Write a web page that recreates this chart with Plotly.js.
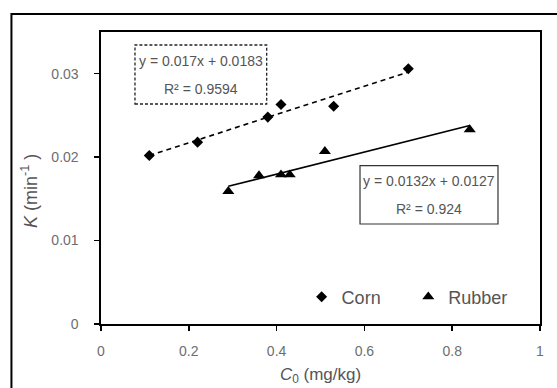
<!DOCTYPE html>
<html>
<head>
<meta charset="utf-8">
<script src="https://cdn.plot.ly/plotly-3.0.1.min.js"></script>
<style>html,body{margin:0;padding:0;background:#fff;}#chart{width:557px;height:388px;}</style>
</head>
<body>
<div id="chart"></div>
<script>
// Data
var cornX = [0.11, 0.22, 0.38, 0.41, 0.53, 0.70];
var cornY = [0.0202, 0.0218, 0.0248, 0.0263, 0.0261, 0.0306];
var rubberX = [0.29, 0.36, 0.41, 0.43, 0.51, 0.84];
var rubberY = [0.0159, 0.0178, 0.0179, 0.0179, 0.0207, 0.0233];
var cornFitX = [0.11, 0.70];
var cornFitY = [0.0202, 0.0302];
var rubberFitX = [0.29, 0.84];
var rubberFitY = [0.0165, 0.0238];
var xTicks = [0, 0.2, 0.4, 0.6, 0.8, 1];
var xTickText = ["0", "0.2", "0.4", "0.6", "0.8", "1"];
var yTicks = [0, 0.01, 0.02, 0.03];
var yTickText = ["0", "0.01", "0.02", "0.03"];
var seriesNames = ["Corn", "Rubber"];
var cornEq = ["y = 0.017x + 0.0183", "R² = 0.9594"];
var rubberEq = ["y = 0.0132x + 0.0127", "R² = 0.924"];
var xTitle = "<i>C</i><sub>0</sub> (mg/kg)";
var yTitle = "<i>K</i> (min<sup>-1</sup> )";

var FONT = "Liberation Sans, Arial, sans-serif";
var traces = [
  {x: cornFitX, y: cornFitY, mode: "lines", line: {color: "#000", width: 1.6, dash: "5px,4px"}, showlegend: false, hoverinfo: "skip"},
  {x: rubberFitX, y: rubberFitY, mode: "lines", line: {color: "#000", width: 1.6}, showlegend: false, hoverinfo: "skip"},
  {x: cornX, y: cornY, name: seriesNames[0], mode: "markers", marker: {symbol: "diamond", size: 8.5, color: "#000"}, legend: "legend"},
  {x: rubberX, y: rubberY, name: seriesNames[1], mode: "markers", marker: {symbol: "triangle-up", size: 10.5, color: "#000"}, legend: "legend2"}
];

var axisCommon = {
  showline: true, linecolor: "#000", linewidth: 1.6, mirror: true,
  ticks: "outside", ticklen: 5, tickwidth: 1.5, tickcolor: "#000",
  showgrid: false, zeroline: false,
  tickfont: {family: FONT, size: 14, color: "#6e6e6e"}
};

var layout = {
  width: 557, height: 388,
  margin: {l: 101, r: 17, t: 32, b: 64},
  paper_bgcolor: "#fff", plot_bgcolor: "#fff",
  font: {family: FONT},
  xaxis: Object.assign({}, axisCommon, {
    range: [0, 1], tickvals: xTicks, ticktext: xTickText, ticklabelstandoff: 9,
    title: {text: xTitle, font: {family: FONT, size: 17, color: "#555"}, standoff: 9}
  }),
  yaxis: Object.assign({}, axisCommon, {
    range: [0, 0.035], tickvals: yTicks, ticktext: yTickText, ticklabelstandoff: 13
  }),
  legend: {x: 0.457, y: 0.0925, xanchor: "left", yanchor: "middle", bgcolor: "rgba(0,0,0,0)",
           font: {family: FONT, size: 18, color: "#555"}},
  legend2: {x: 0.700, y: 0.0925, xanchor: "left", yanchor: "middle", bgcolor: "rgba(0,0,0,0)",
           font: {family: FONT, size: 18, color: "#555"}},
  shapes: [
    {type: "rect", xref: "paper", yref: "paper", x0: 0.0774, x1: 0.3774, y0: 0.7534, y1: 0.9555,
     line: {color: "#222", width: 1.3, dash: "3px,2px"}},
    {type: "rect", xref: "paper", yref: "paper", x0: 0.59, x1: 0.9043, y0: 0.3425, y1: 0.5421,
     line: {color: "#333", width: 1.2}},
    {type: "rect", xref: "paper", yref: "paper", x0: -0.204, x1: 1.06, y0: -0.25, y1: 1.0616,
     line: {color: "#000", width: 2}}
  ],
  annotations: [
    {xref: "paper", yref: "paper", x: -0.1617, y: 0.4555, text: yTitle, textangle: -90, showarrow: false, xanchor: "center", yanchor: "middle", font: {family: FONT, size: 18, color: "#555"}},
    {xref: "paper", yref: "paper", x: 0.2274, y: 0.9017, text: cornEq[0], showarrow: false, xanchor: "center", yanchor: "middle", font: {family: FONT, size: 14, color: "#555"}},
    {xref: "paper", yref: "paper", x: 0.2274, y: 0.8038, text: cornEq[1], showarrow: false, xanchor: "center", yanchor: "middle", font: {family: FONT, size: 14, color: "#555"}},
    {xref: "paper", yref: "paper", x: 0.7472, y: 0.4897, text: rubberEq[0], showarrow: false, xanchor: "center", yanchor: "middle", font: {family: FONT, size: 14, color: "#555"}},
    {xref: "paper", yref: "paper", x: 0.7472, y: 0.3938, text: rubberEq[1], showarrow: false, xanchor: "center", yanchor: "middle", font: {family: FONT, size: 14, color: "#555"}}
  ]
};

Plotly.newPlot("chart", traces, layout, {displayModeBar: false, staticPlot: true});
</script>
</body>
</html>
